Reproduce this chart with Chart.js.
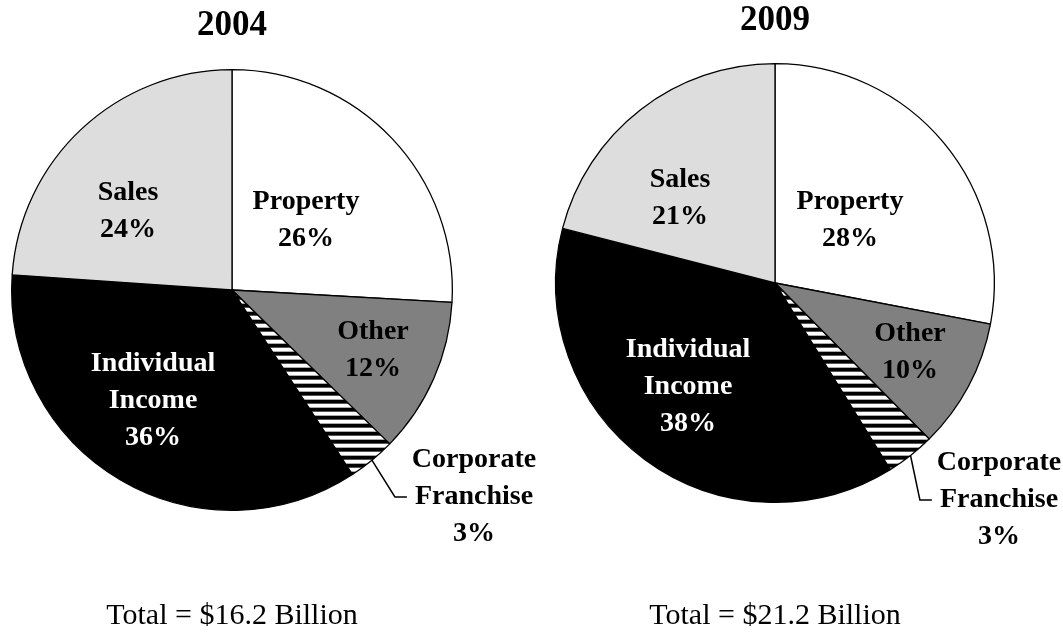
<!DOCTYPE html>
<html><head><meta charset="utf-8">
<script src="https://cdn.jsdelivr.net/npm/chart.js@4.4.1/dist/chart.umd.min.js"></script>
<style>
html,body{margin:0;padding:0;background:#fff;}
#wrap{position:relative;width:1063px;height:632px;overflow:hidden;background:#fff;}
#wrap canvas{position:absolute;left:0;top:0;}
</style></head><body>
<div id="wrap">
  <canvas id="pieA" width="1063" height="632"></canvas>
  <canvas id="pieB" width="1063" height="632"></canvas>
</div>
<script>
// ---- data ----
const categories = ["Property", "Other", "Corporate Franchise", "Individual Income", "Sales"];
const labelLines = [["Property"], ["Other"], ["Corporate", "Franchise"], ["Individual", "Income"], ["Sales"]];
const years = ["2004", "2009"];
const shares2004 = [25.9, 11.4, 3.5, 35.3, 23.9];
const shares2009 = [28.0, 9.6, 3.6, 37.8, 21.0];
const pctLabels2004 = ["26%", "12%", "3%", "36%", "24%"];
const pctLabels2009 = ["28%", "10%", "3%", "38%", "21%"];
const totals = ["Total = $16.2 Billion", "Total = $21.2 Billion"];

// ---- styles ----
const SERIF = '"Liberation Serif", "Times New Roman", Times, serif';
function makeHatch() {
  const c = document.createElement('canvas');
  c.width = 8; c.height = 8;
  const g = c.getContext('2d');
  const rows = ['#000', '#000', '#000', '#555', '#fff', '#fff', '#fff', '#aaa'];
  rows.forEach((col, i) => { g.fillStyle = col; g.fillRect(0, i, 8, 1); });
  return document.createElement('canvas').getContext('2d').createPattern(c, 'repeat');
}
const hatch = makeHatch();
const sliceColors = ['#ffffff', '#808080', hatch, '#000000', '#dddddd'];
const textColors = ['#000', '#000', '#000', '#fff', '#000'];

const layouts = [
  { padding: { left: 11, top: 69, right: 610, bottom: 121 },
    title: { y: 26 }, total: { y: 616 },
    labelOffsets: [[74, -70], [141, 60], [242, 207], [-79, 111], [-104, -79]] },
  { padding: { left: 555, top: 63, right: 68, bottom: 129 },
    title: { y: 21 }, total: { y: 616 },
    labelOffsets: [[75, -63], [135, 69], [224, 217], [-87, 104], [-95, -85]] }
];

const labelPlugin = {
  id: 'pieLabels',
  afterDatasetsDraw(chart, args, opts) {
    const ctx = chart.ctx;
    const meta = chart.getDatasetMeta(0);
    const a0 = meta.data[0];
    const cx = a0.x, cy = a0.y, R = a0.outerRadius;
    const L = opts.layout;
    const lh = 37;
    ctx.save();
    ctx.textAlign = 'center';
    ctx.textBaseline = 'middle';
    // title
    ctx.fillStyle = '#000';
    ctx.font = 'bold 35px ' + SERIF;
    ctx.fillText(opts.year, cx, L.title.y);
    // slice labels
    ctx.font = 'bold 28px ' + SERIF;
    meta.data.forEach((arc, i) => {
      const lines = labelLines[i].concat([opts.pcts[i]]);
      const bx = cx + L.labelOffsets[i][0];
      const by = cy + L.labelOffsets[i][1];
      ctx.fillStyle = textColors[i];
      lines.forEach((t, j) => {
        ctx.fillText(t, bx, by + (j - (lines.length - 1) / 2) * lh);
      });
      if (i === 2) {
        const mid = (arc.startAngle + arc.endAngle) / 2;
        const sx = cx + R * Math.cos(mid), sy = cy + R * Math.sin(mid);
        const ly = by + (1 - (lines.length - 1) / 2) * lh;
        const ex = bx - ctx.measureText(lines[1]).width / 2 - 8;
        ctx.strokeStyle = '#000';
        ctx.lineWidth = 1.5;
        ctx.beginPath();
        ctx.moveTo(sx, sy);
        ctx.lineTo(ex - 12, ly);
        ctx.lineTo(ex, ly);
        ctx.stroke();
      }
    });
    // total
    ctx.fillStyle = '#000';
    ctx.font = '30px ' + SERIF;
    ctx.fillText(opts.total, cx, L.total.y);
    ctx.restore();
  }
};

function makePie(id, values, pcts, idx) {
  return new Chart(document.getElementById(id), {
    type: 'pie',
    data: {
      labels: categories,
      datasets: [{
        data: values,
        backgroundColor: sliceColors,
        borderColor: '#000',
        borderWidth: 1.3
      }]
    },
    options: {
      responsive: false,
      animation: false,
      layout: { padding: layouts[idx].padding },
      plugins: {
        legend: { display: false },
        tooltip: { enabled: false },
        pieLabels: { layout: layouts[idx], pcts: pcts, year: years[idx], total: totals[idx] }
      }
    },
    plugins: [labelPlugin]
  });
}
makePie('pieA', shares2004, pctLabels2004, 0);
makePie('pieB', shares2009, pctLabels2009, 1);
</script>
</body></html>
